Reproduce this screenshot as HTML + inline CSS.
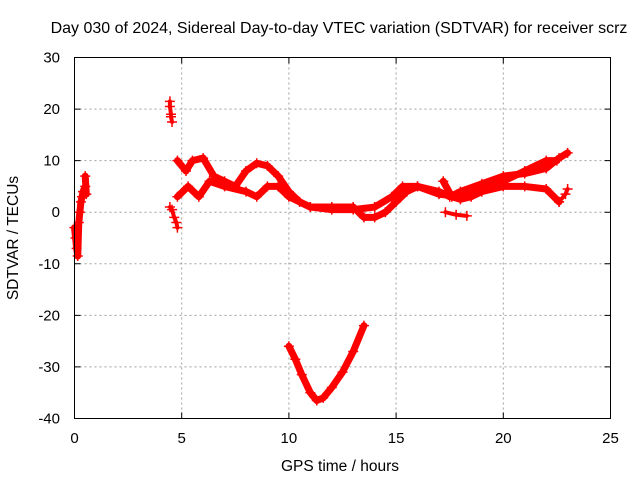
<!DOCTYPE html>
<html><head><meta charset="utf-8"><style>
html,body{margin:0;padding:0;background:#fff}
svg{display:block;font-family:"Liberation Sans",sans-serif}
</style></head><body>
<svg id="chart" width="640" height="480" xmlns="http://www.w3.org/2000/svg">
<text x="339" y="33" font-size="16" text-anchor="middle">Day 030 of 2024, Sidereal Day-to-day VTEC variation (SDTVAR) for receiver scrz</text>
<text x="340" y="471" font-size="15.5" text-anchor="middle">GPS time / hours</text>
<text transform="translate(18,238) rotate(-90)" font-size="15.5" text-anchor="middle">SDTVAR / TECUs</text>
<g id="grid"></g>
<g id="ticks"></g>
<g id="marks"></g>
<rect x="74.5" y="57.5" width="536" height="361" fill="none" stroke="#000" stroke-width="1"/>
</svg>
<script>
const xTicks=[0,5,10,15,20,25];
const yTicks=[30,20,10,0,-10,-20,-30,-40];
const sEarly=[[0.0,-3],[0.05,-5],[0.1,-7],[0.15,-8.5],[0.2,-2],[0.25,0],[0.3,2],[0.35,3],[0.4,4],[0.5,5],[0.55,3.5],[0.5,7]];
const sSpike=[[4.45,21.5],[4.45,20.5],[4.5,19],[4.5,18.5],[4.55,17.5]];
const sDip=[[4.45,1],[4.55,0.5],[4.65,-1],[4.75,-2],[4.8,-3]];
const sBand1=[[4.8,10],[5.2,8],[5.5,10],[6,10.5],[6.5,7],[7,6],[7.5,5],[8,8],[8.5,9.5],[9,9],[9.5,7],[10,4],[10.5,2],[11,1],[12,0.5],[13,0.5],[14,1],[14.8,3],[15.3,5],[16,5],[17,3.5],[18,3],[19,5],[20,6],[21,8],[22,10],[22.5,10]];
const sBand2=[[4.8,3],[5.3,5],[5.8,3],[6.3,6],[7,5],[8,4],[8.5,3],[9,5],[9.5,5],[10,3],[11,1],[12,1],[13,1],[13.5,-1],[14,-1],[14.5,0],[15,2],[15.5,4],[16,5],[17,4],[17.5,3],[18,4],[19,5.5],[20,7],[21,7.5],[22,8.5],[22.6,10.5],[23,11.5]];
const sBand3=[[17.2,6],[17.6,3],[18,2.5],[18.5,3],[19,4],[20,5],[21,5],[22,4.5],[22.6,2]];
const sBand4=[[17.3,0],[17.8,-0.5],[18.3,-0.7]];
const sBand5=[[22.6,2],[22.9,3.5],[23,4.5]];
const sBowl=[[10,-26],[10.3,-28.5],[10.6,-31.5],[11,-35],[11.3,-36.5],[11.6,-36],[12,-34],[12.5,-31],[13,-27],[13.5,-22]];
const allSeries=[sEarly,sSpike,sDip,sBand1,sBand2,sBand3,sBand4,sBand5,sBowl];
const NS='http://www.w3.org/2000/svg';
const X=v=>74.5+v*(536/25);
const Y=v=>57.5+(30-v)*(361/70);
const grid=document.getElementById('grid'),ticks=document.getElementById('ticks'),marks=document.getElementById('marks');
function mk(tag,attrs,parent){const e=document.createElementNS(NS,tag);for(const k in attrs)e.setAttribute(k,attrs[k]);parent.appendChild(e);return e;}
xTicks.forEach(t=>{
  const x=X(t);
  if(t>0&&t<25){const g=mk('line',{x1:x,x2:x,y1:57.5,y2:418.5,stroke:'#a0a0a0','stroke-dasharray':'2,3'},grid);
  
  }
  const tk=mk('path',{d:`M${x},418.5v-6M${x},57.5v6`,stroke:'#000'},ticks);
  
  
  const l=mk('text',{x:x,y:443,'font-size':15,'text-anchor':'middle'},ticks);l.textContent=t;
  
  
});
yTicks.forEach(t=>{
  const y=Y(t);
  if(t<30&&t>-40){const g=mk('line',{x1:74.5,x2:610.5,y1:y,y2:y,stroke:'#a0a0a0','stroke-dasharray':'2,3'},grid);
  
  }
  const tk=mk('path',{d:`M74.5,${y}h6M610.5,${y}h-6`,stroke:'#000'},ticks);
  
  
  const l=mk('text',{x:60,y:y+5,'font-size':15,'text-anchor':'end'},ticks);l.textContent=t;
  
  
});
allSeries.forEach(s=>{
  const thick=s.length>5;
  const p=mk('polyline',{points:s.map(d=>X(d[0])+','+Y(d[1])).join(' '),fill:'none',stroke:'#f00','stroke-width':s===sBowl?7:(thick?7:4),'stroke-linejoin':'round','stroke-linecap':'round'},marks);
  
  
  s.forEach(d=>{
    const x=X(d[0]),y=Y(d[1]);
    const m=mk('path',{d:`M${x-5},${y}h10M${x},${y-5}v10`,stroke:'#f00','stroke-width':1.5},marks);
    
    
  });
});
</script>
</body></html>
